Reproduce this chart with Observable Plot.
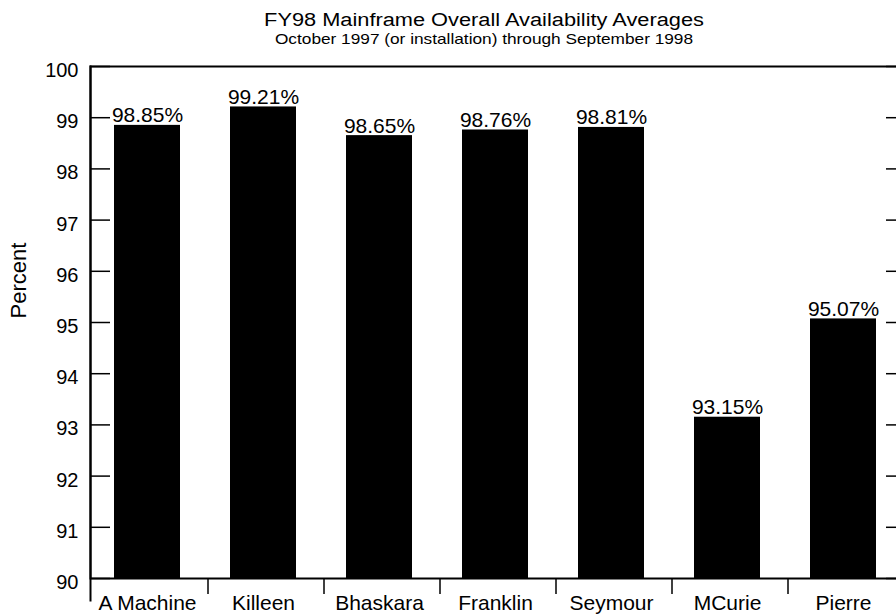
<!DOCTYPE html>
<html>
<head>
<meta charset="utf-8">
<script src="https://cdn.jsdelivr.net/npm/d3@7"></script>
<script src="https://cdn.jsdelivr.net/npm/@observablehq/plot@0.6"></script>
<style>
  html, body { margin: 0; padding: 0; background: white; }
  #wrap { width: 896px; height: 614px; overflow: hidden; position: relative; font-family: "Liberation Sans", Arial, Helvetica, sans-serif; }
  #header { position: relative; height: 44px; }
  .t { position: absolute; left: 484px; white-space: nowrap; color: #000; line-height: 1; }
  #title { top: 11px; font-size: 18px; transform: translateX(-50%) scaleX(1.21); }
  #subtitle { top: 31px; font-size: 15px; transform: translateX(-50%) scaleX(1.15); }
</style>
</head>
<body>
<div id="wrap">
  <div id="header">
    <div id="title" class="t">FY98 Mainframe Overall Availability Averages</div>
    <div id="subtitle" class="t">October 1997 (or installation) through September 1998</div>
  </div>
  <div id="chart"></div>
</div>
<script>
const servers = ["A Machine", "Killeen", "Bhaskara", "Franklin", "Seymour", "MCurie", "Pierre"];
const availability = [98.85, 99.21, 98.65, 98.76, 98.81, 93.15, 95.07];
const yTicks = [90, 91, 92, 93, 94, 95, 96, 97, 98, 99, 100];
const yLabel = "Percent";

const data = servers.map((s, i) => ({server: s, value: availability[i]}));

const chart = Plot.plot({
  width: 896,
  height: 570,
  marginTop: 22,
  marginBottom: 36,
  marginLeft: 90,
  marginRight: -9,
  style: {fontFamily: '"Liberation Sans", Arial, Helvetica, sans-serif', fontSize: "20px", background: "white", color: "black", overflow: "hidden"},
  x: {domain: servers, range: [88, 902], paddingInner: 0.43, paddingOuter: 0.215, label: null},
  y: {domain: [90, 100], label: null},
  marks: [
    Plot.barY(data, {x: "server", y1: 90, y2: "value", fill: "black"}),
    Plot.frame({stroke: "black", strokeWidth: 2}),
    Plot.frame({anchor: "left", stroke: "black", strokeWidth: 2, insetBottom: -22}),
    Plot.ruleX(servers, {x: d => d, y1: 90, y2: 90, insetBottom: -16, dx: 60.5, stroke: "black", strokeWidth: 1.5}),
    Plot.axisY(yTicks, {anchor: "left", tickSize: -20, strokeWidth: 1.5, tickFormat: () => ""}),
    Plot.axisY(yTicks, {anchor: "left", tickSize: 0, tickPadding: 12, dy: 4, fontSize: 20, tickFormat: d => String(d)}),
    Plot.axisY(yTicks, {anchor: "right", tickSize: -20, strokeWidth: 1.5, tickFormat: () => ""}),
    Plot.axisX(servers, {anchor: "bottom", tickSize: 0, tickPadding: 17, fontSize: 21}),
    Plot.text(data, {x: "server", y: "value", text: d => d.value.toFixed(2) + "%", lineAnchor: "bottom", dy: -3, fontSize: 21, fill: "black"}),
    Plot.text([yLabel], {frameAnchor: "left", dx: -72, dy: -4, rotate: -90, fontSize: 22, fill: "black"})
  ]
});
document.getElementById("chart").appendChild(chart);
</script>
</body>
</html>
